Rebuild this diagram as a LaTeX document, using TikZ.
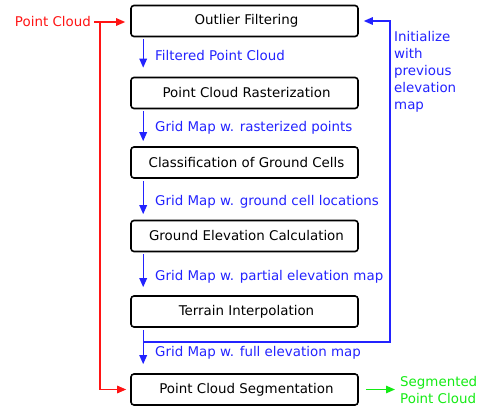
\documentclass[tikz,border=0pt]{standalone}
\usepackage{fontspec}
\setmainfont{DejaVu Sans}
\usetikzlibrary{calc,arrows.meta,positioning}
\definecolor{flowBlue}{RGB}{35,35,255}
\definecolor{inRed}{RGB}{255,20,20}
\definecolor{outGreen}{RGB}{20,235,20}
\newcommand{\stagefont}{\fontsize{13.4}{17}\selectfont}

\begin{document}
\begin{tikzpicture}[x=1pt,y=-1pt,
  stage/.style={draw,rounded corners=3pt,line width=1.6pt,minimum width=227pt,minimum height=31pt,inner sep=0pt,font=\stagefont},
  flowlbl/.style={anchor=base west,inner sep=0pt,text=flowBlue,font=\stagefont},
  flow/.style={draw=flowBlue,line width=1.4pt,-{Triangle[length=9pt,width=7.5pt]}},
  inflow/.style={draw=inRed,line width=1.4pt,-{Triangle[length=9pt,width=7.5pt]}},
  outflow/.style={draw=outGreen,line width=1.4pt,-{Triangle[length=9pt,width=7.5pt]}}]
\useasboundingbox (0,0) rectangle (482,409);
\node[stage] (outlier) at (244.5,21) {\hspace{4pt}Outlier Filtering};
\node[stage] (raster) at (244.5,93) {\hspace{4pt}Point Cloud Rasterization};
\node[stage] (classify) at (244.5,162.5) {\hspace{4pt}Classification of Ground Cells};
\node[stage] (ground) at (244.5,236) {\hspace{4pt}Ground Elevation Calculation};
\node[stage] (terrain) at (244.5,311.5) {\hspace{4pt}Terrain Interpolation};
\node[stage] (segment) at (244.5,389.5) {\hspace{4pt}Point Cloud Segmentation};
\draw[flow,shorten <=2pt,shorten >=9pt] ([xshift=13pt]outlier.south west) -- ([xshift=13pt]raster.north west);
\draw[flow,shorten <=2pt,shorten >=5pt] ([xshift=13pt]raster.south west) -- ([xshift=13pt]classify.north west);
\draw[flow,shorten <=2pt,shorten >=5.5pt] ([xshift=13pt]classify.south west) -- ([xshift=13pt]ground.north west);
\draw[flow,shorten <=2pt,shorten >=8pt] ([xshift=13pt]ground.south west) -- ([xshift=13pt]terrain.north west);
\draw[flow,shorten <=2pt,shorten >=9pt] ([xshift=13pt]terrain.south west) -- ([xshift=13pt]segment.north west);
\node[flowlbl] (lblfiltered) at (155,61) {Filtered Point Cloud};
\node[flowlbl] (lblraster) at (155,132) {Grid Map w. rasterized points};
\node[flowlbl] (lblcells) at (155,205) {Grid Map w. ground cell locations};
\node[flowlbl] (lblpartial) at (155,280) {Grid Map w. partial elevation map};
\node[flowlbl] (lblfull) at (155,356) {Grid Map w. full elevation map};
\coordinate (fbsplit) at ($(terrain.south west)+(13,14)$);
\coordinate (fbtop) at ($(outlier.east)+(31,0)$);
\draw[flow,shorten >=5pt] (fbsplit) -| (fbtop) -- (outlier.east);
\node[anchor=north west,inner sep=0pt,align=left,text=flowBlue,font=\fontsize{13.4}{17}\selectfont] (initlbl) at (394,31.6) {Initialize\\with\\previous\\elevation\\map};
\node[anchor=base east,inner sep=0pt,text=inRed,font=\stagefont] (pcin) at (91,27) {Point Cloud};
\coordinate (redsplit) at ($(pcin.east)+(9,0)$);
\draw[inflow,shorten <=3pt,shorten >=5pt] (pcin.east) -- (pcin.east -| outlier.west);
\draw[inflow,shorten >=4pt] (redsplit) |- (segment.west);
\node[anchor=north west,inner sep=0pt,align=left,text=outGreen,font=\fontsize{13.4}{16.3}\selectfont] (segout) at (400,376.6) {Segmented\\Point Cloud};
\draw[outflow,shorten <=7pt,shorten >=5pt] (segment.east) -- (segment.east -| segout.west);
\end{tikzpicture}
\end{document}
